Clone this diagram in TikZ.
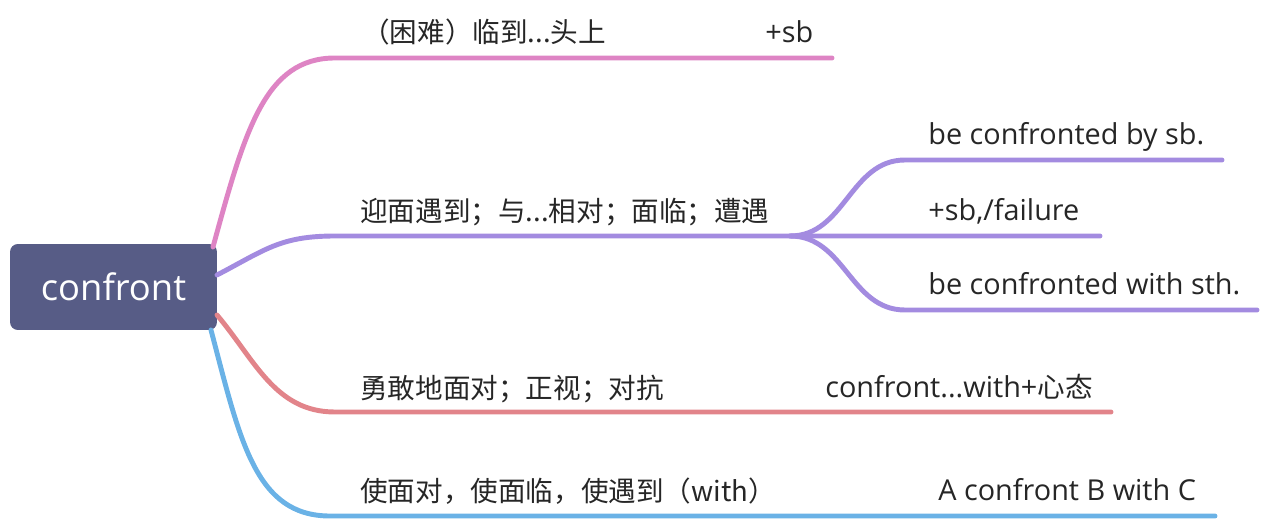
\documentclass[tikz,border=0pt]{standalone}
\usepackage{fontspec}
\setmainfont{Open Sans}
\newfontfamily\cjk{Noto Sans CJK SC}
\usetikzlibrary{positioning, calc}
\definecolor{rootfill}{HTML}{575C86}
\definecolor{pinkline}{HTML}{DE84C4}
\definecolor{purpleline}{HTML}{A38BE0}
\definecolor{redline}{HTML}{E2848A}
\definecolor{blueline}{HTML}{6AB2E6}
\definecolor{labeltext}{HTML}{262626}

\begin{document}
\begin{tikzpicture}[
    x=0.02cm, y=-0.02cm,
    root/.style={fill=rootfill, rounded corners=4.5pt, text=white, font=\fontsize{20.7}{24}\selectfont,
        minimum width=4.14cm, minimum height=1.72cm, inner sep=0pt},
    lbl/.style={anchor=base west, inner sep=0pt, text=labeltext, font=\fontsize{16.4}{19}\selectfont},
    zh/.style={lbl, font=\cjk\fontsize{15.7}{19}\selectfont},
    branch/.style={line width=2.8pt, line cap=round}
]
    \useasboundingbox (0,0) rectangle (1266,520);

    \node[root] (root) at (113.5,287) {confront};

    % joints on the root and along the branches
    \coordinate (p0) at (213,247);
    \coordinate (p1) at (335,58);
    \coordinate (p1e) at (832,58);
    \coordinate (q0) at (217,275);
    \coordinate (q1) at (335,236);
    \coordinate (fork) at (790,236);
    \coordinate (q1e) at (1100,236);
    \coordinate (qa) at (905,160);
    \coordinate (qae) at (1222,160);
    \coordinate (qc) at (905,310);
    \coordinate (qce) at (1257,310);
    \coordinate (r0) at (217,315);
    \coordinate (r1) at (335,412);
    \coordinate (r1e) at (1111,412);
    \coordinate (s0) at (211,330);
    \coordinate (s1) at (330,516);
    \coordinate (s1e) at (1215,516);

    % labels
    \node[zh] (hard) at (362,43) {（困难）临到...头上};
    \node[lbl] (plussb) at (765,43) {+sb};
    \node[zh] (meet) at (360,221) {迎面遇到；与...相对；面临；遭遇};
    \node[lbl] (bysb) at (928,145) {be confronted by sb.};
    \node[lbl] (fail) at (928,220) {+sb,/failure};
    \node[lbl] (withsth) at (928,294) {be confronted with sth.};
    \node[zh] (brave) at (360,398) {勇敢地面对；正视；对抗};
    \node[lbl] (mind) at (825,397) {confront...with+{\cjk\fontsize{15.7}{19}\selectfont 心态}};
    \node[zh] (make) at (360,501) {使面对，使面临，使遇到（with）};
    \node[lbl] (abc) at (938,500) {A confront B with C};

    % branches
    \draw[branch, pinkline] (p0) .. controls (245,130) and (265,58) .. (p1) -- (p1e);
    \draw[branch, purpleline] (q0) .. controls (265,250) and (280,236) .. (q1) -- (q1e);
    \draw[branch, purpleline] (fork) .. controls (845,236) and (850,160) .. (qa) -- (qae);
    \draw[branch, purpleline] (fork) .. controls (845,236) and (850,310) .. (qc) -- (qce);
    \draw[branch, redline] (r0) .. controls (255,360) and (275,412) .. (r1) -- (r1e);
    \draw[branch, blueline] (s0) .. controls (240,440) and (255,516) .. (s1) -- (s1e);
\end{tikzpicture}
\end{document}
